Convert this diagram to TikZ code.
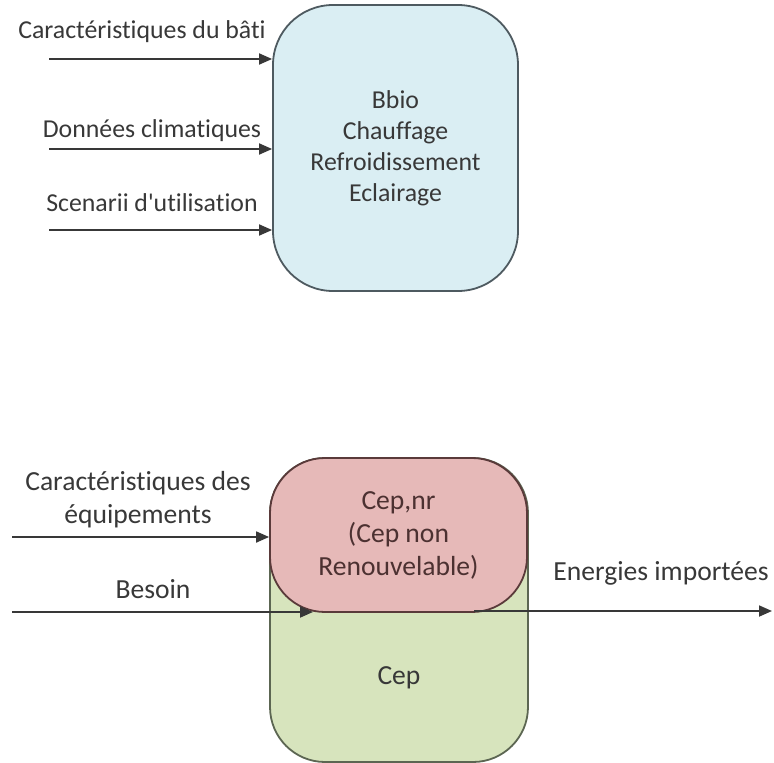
\documentclass[tikz,border=0pt]{standalone}
\usepackage{fontspec}
\setmainfont{Carlito}[Ligatures={TeX,NoCommon}]
\usetikzlibrary{arrows.meta}
\definecolor{inkgrey}{HTML}{383838}
\definecolor{bluefill}{HTML}{DAEEF3}
\definecolor{blueline}{HTML}{4E5A60}
\definecolor{pinkfill}{HTML}{E6B9B8}
\definecolor{pinkline}{HTML}{5A3A3A}
\definecolor{greenfill}{HTML}{D7E4BD}
\definecolor{greenline}{HTML}{5C6652}
\tikzset{
  lbl/.style={text=inkgrey, inner sep=0pt, font=\fontsize{25.8}{31}\selectfont},
  lblb/.style={text=inkgrey, inner sep=0pt, align=center, font=\fontsize{27.6}{33}\selectfont},
  flow/.style={draw=inkgrey, line width=1.8pt, -{Triangle[length=13pt,width=11pt]}},
  bluebox/.style={draw=blueline, fill=bluefill, line width=1.8pt, rounded corners=60pt,
    align=center, text=inkgrey, font=\fontsize{25.8}{31}\selectfont},
  pinkbox/.style={draw=pinkline, fill=pinkfill, line width=1.8pt, rounded corners=55pt,
    align=center, text=pinkline!85!black, font=\fontsize{27.6}{33}\selectfont},
  greenbox/.style={draw=greenline, fill=greenfill, line width=1.8pt, rounded corners=55pt}
}
\begin{document}
\begin{tikzpicture}[x=1pt,y=-1pt]
\useasboundingbox (0,0) rectangle (774,763);

% upper block: building envelope model
\node[bluebox, minimum width=245pt, minimum height=286pt] (bbio) at (395.5,148)
  {Bbio\\Chauffage\\Refroidissement\\Eclairage};

\coordinate (in1) at (49,59);
\coordinate (in2) at (49,149);
\coordinate (in3) at (49,230);
\draw[flow] (in1) -- (in1 -| bbio.west);
\draw[flow] (in2) -- (in2 -| bbio.west);
\draw[flow] (in3) -- (in3 -| bbio.west);

\node[lbl] (t1) at (142,32) {Caractéristiques du bâti};
\node[lbl] (t2) at (152,131) {Données climatiques};
\node[lbl] (t3) at (152,203) {Scenarii d\textquotesingle utilisation};

% lower block: primary energy consumption
\node[greenbox, minimum width=258pt, minimum height=304pt] (cep) at (399,610) {};
\node[pinkbox, minimum width=257pt, minimum height=154pt] (cepnr) at (398.5,535)
  {Cep,nr\\(Cep non\\Renouvelable)};
\node[lblb] (ceptxt) at (399,678) {Cep};

\coordinate (in4) at (12,537);
\coordinate (in5) at (12,612);
\coordinate (besoinend) at (313,612);
\coordinate (outstart) at (474,611);
\coordinate (outend) at (772,611);
\draw[flow] (in4) -- (in4 -| cepnr.west);
\draw[flow] (in5) -- (besoinend);
\draw[flow] (outstart) -- (outend);

\node[lblb] (t4) at (138,500) {Caractéristiques des\\équipements};
\node[lblb] (t5) at (153,589) {Besoin};
\node[lblb] (t6) at (661,573) {Energies importées};
\end{tikzpicture}
\end{document}
